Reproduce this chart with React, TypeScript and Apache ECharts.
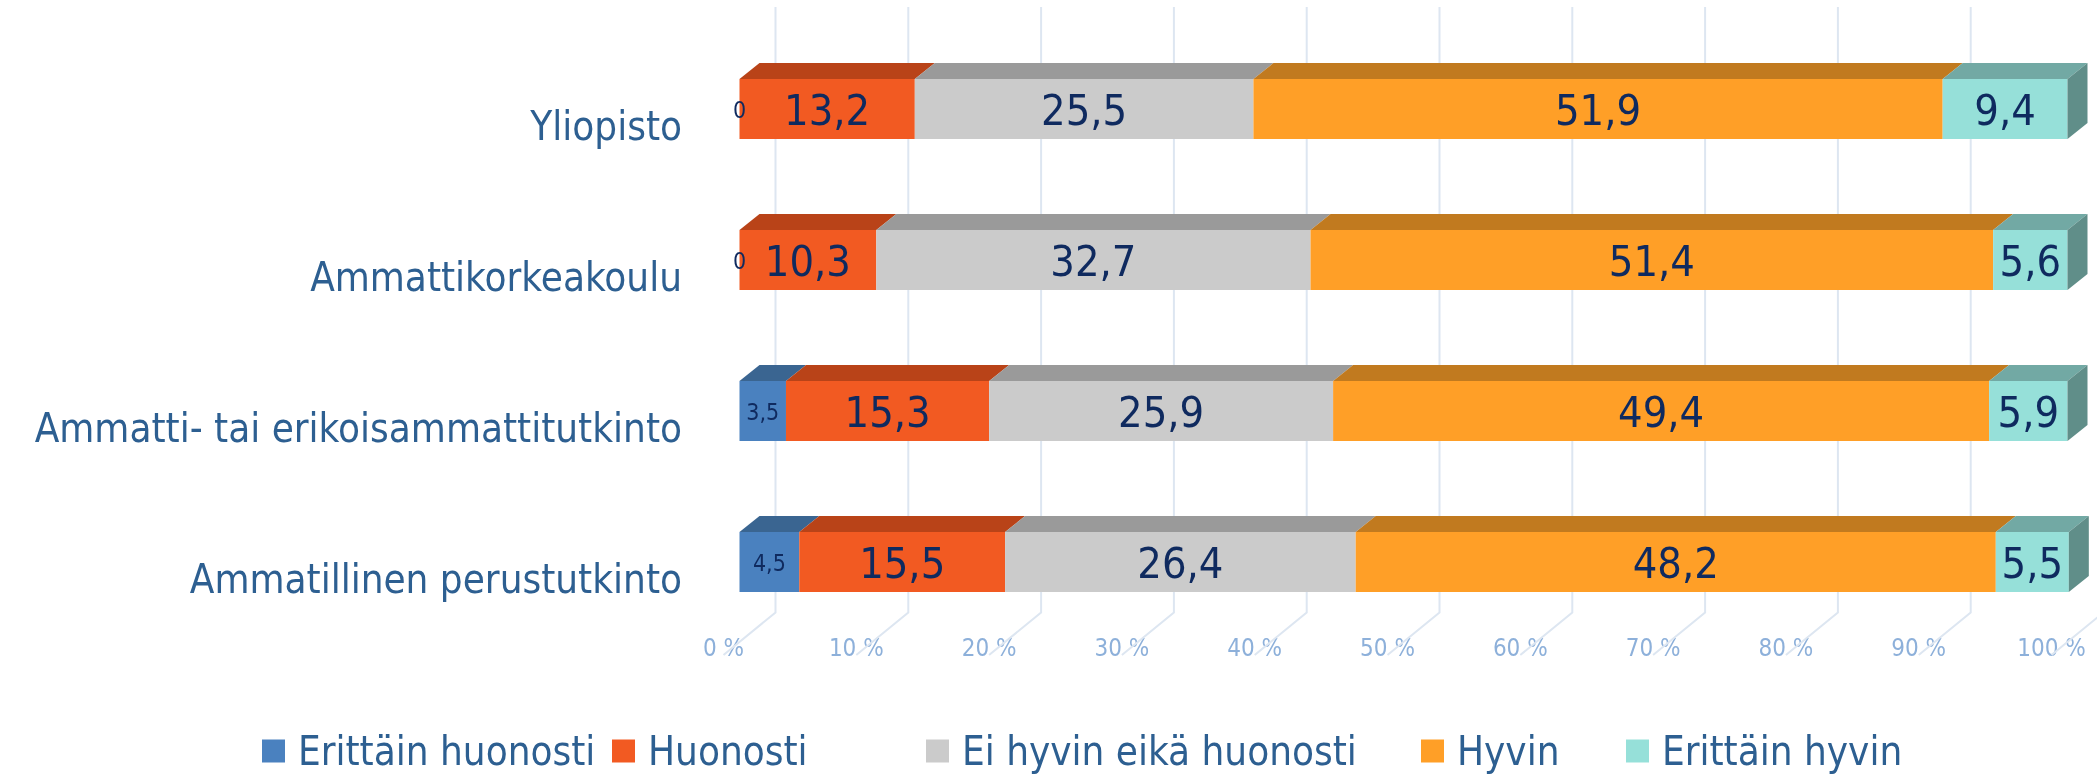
import React, { useEffect, useRef } from 'react';
import * as echarts from 'echarts';

const categories = [
  'Yliopisto',
  'Ammattikorkeakoulu',
  'Ammatti- tai erikoisammattitutkinto',
  'Ammatillinen perustutkinto',
];
const seriesNames = ['Erittäin huonosti', 'Huonosti', 'Ei hyvin eikä huonosti', 'Hyvin', 'Erittäin hyvin'];
const erittainHuonosti = [0, 0, 3.5, 4.5];
const huonosti = [13.2, 10.3, 15.3, 15.5];
const eiHyvinEikaHuonosti = [25.5, 32.7, 25.9, 26.4];
const hyvin = [51.9, 51.4, 49.4, 48.2];
const erittainHyvin = [9.4, 5.6, 5.9, 5.5];
const xTicks = [0, 10, 20, 30, 40, 50, 60, 70, 80, 90, 100];

const FONT = '"DejaVu Sans Condensed", "Liberation Sans Narrow", "DejaVu Sans", sans-serif';
const frontColors = ['#4A81BF', '#F25A22', '#CBCBCB', '#FF9F27', '#96E0D9'];
const topColors = ['#3A6591', '#B94318', '#9A9A9A', '#C17A1F', '#72A9A4'];
const sideColors = ['#2F5175', '#8F3412', '#7A7A7A', '#9A6118', '#608E89'];
const labelSizes = [23, 43, 43, 43, 43];
const legendLefts = [262, 612, 926, 1421, 1626];

const FRONT_DX = 16;
const DX = 20;
const DY = 16;
const BAR_H = 60;
const LABEL_COLOR = '#0F2A5F';

const fmt = (v: number) => String(v).replace('.', ',');

export default function App() {
  const ref = useRef<HTMLDivElement>(null);
  useEffect(() => {
    if (!ref.current) return;
    const chart = echarts.init(ref.current, undefined, { renderer: 'svg' });
    const all = [erittainHuonosti, huonosti, eiHyvinEikaHuonosti, hyvin, erittainHyvin];
    const cum = categories.map(() => 0);
    const barSeries = all.map((vals, si) => {
      const data = vals.map((v, ci) => {
        const s = cum[ci];
        cum[ci] += v;
        return [s, s + v, ci, v];
      });
      const isLast = si === all.length - 1;
      return {
        type: 'custom',
        name: seriesNames[si],
        z: 3,
        clip: false,
        silent: true,
        itemStyle: { color: frontColors[si] },
        encode: { x: [0, 1], y: 2 },
        data,
        renderItem: (params: any, api: any) => {
          const start = api.value(0);
          const end = api.value(1);
          const cat = api.value(2);
          const val = api.value(3);
          const p0 = api.coord([start, cat]);
          const p1 = api.coord([end, cat]);
          const x0 = p0[0] + FRONT_DX;
          const x1 = p1[0] + FRONT_DX;
          const cy = p0[1];
          const yT = cy - BAR_H / 2;
          const yB = cy + BAR_H / 2;
          const children: any[] = [];
          if (x1 - x0 > 0.01) {
            children.push({
              type: 'polygon',
              z2: 1,
              shape: { points: [[x0, yT], [x0 + DX, yT - DY], [x1 + DX, yT - DY], [x1, yT]] },
              style: { fill: topColors[si] },
            });
            children.push({
              type: 'rect',
              z2: 1,
              shape: { x: x0, y: yT, width: x1 - x0, height: BAR_H },
              style: { fill: frontColors[si] },
            });
            if (isLast) {
              children.push({
                type: 'polygon',
                z2: 1,
                shape: { points: [[x1, yT], [x1 + DX, yT - DY], [x1 + DX, yB - DY], [x1, yB]] },
                style: { fill: sideColors[si] },
              });
            }
          }
          children.push({
            type: 'text',
            z2: 100,
            x: (x0 + x1) / 2,
            y: cy + 1,
            style: {
              text: fmt(val),
              fill: LABEL_COLOR,
              fontSize: labelSizes[si],
              fontFamily: FONT,
              align: 'center',
              verticalAlign: 'middle',
            },
          });
          return { type: 'group', children };
        },
      };
    });

    const gridSeries = {
      type: 'custom',
      name: 'grid',
      z: 1,
      clip: false,
      silent: true,
      encode: { x: 0, y: 1 },
      data: xTicks.map((v) => [v, 0]),
      renderItem: (params: any, api: any) => {
        const x = api.coord([api.value(0), 0])[0];
        return {
          type: 'polyline',
          shape: { points: [[x + 52, 7], [x + 52, 612.5], [x, 655]] },
          style: { stroke: '#DDE6F1', lineWidth: 2, fill: null },
        };
      },
    };

    const legends = seriesNames.map((n, i) => ({
      left: legendLefts[i],
      top: 731,
      padding: 0,
      itemGap: 0,
      itemWidth: 23,
      itemHeight: 23,
      icon: 'rect',
      selectedMode: false,
      textStyle: { color: '#2D5F91', fontSize: 40, fontFamily: FONT, padding: [0, 0, 0, 8] },
      data: [n],
    }));

    chart.setOption({
      animation: false,
      grid: { left: 723.5, right: 45.5, top: 33.5, bottom: 137.5, containLabel: false },
      xAxis: {
        type: 'value',
        min: 0,
        max: 100,
        interval: 10,
        offset: 0,
        axisLine: { show: false },
        axisTick: { show: false },
        splitLine: { show: false },
        axisLabel: {
          formatter: '{value} %',
          color: '#8DB0DA',
          fontSize: 24,
          fontFamily: FONT,
          margin: -2,
        },
      },
      yAxis: {
        type: 'category',
        inverse: true,
        data: categories,
        axisLine: { show: false },
        axisTick: { show: false },
        splitLine: { show: false },
        axisLabel: {
          color: '#2D5F91',
          fontSize: 40,
          fontFamily: FONT,
          margin: 41.5,
          verticalAlign: 'top',
          lineHeight: 34,
        },
      },
      legend: legends,
      series: [gridSeries, ...barSeries],
    });
    return () => chart.dispose();
  }, []);
  return (
    <div
      ref={ref}
      style={{ position: 'fixed', left: 0, top: 0, width: 2097, height: 775 }}
    />
  );
}
